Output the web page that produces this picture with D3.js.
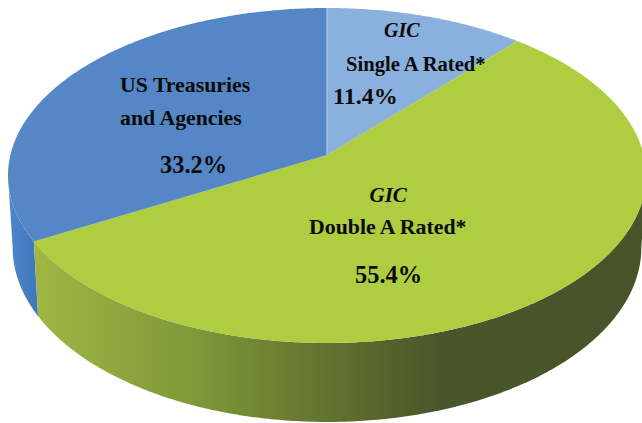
<!DOCTYPE html>
<html>
  <head>
	<meta charset="utf-8">
	<title>Portfolio pie</title>
	<script src="https://cdnjs.cloudflare.com/ajax/libs/d3/7.8.5/d3.min.js"></script>
	<style>
		html,body{margin:0;padding:0;background:#fff;}
		svg{display:block;}
		text{font-family:"Liberation Serif",serif;font-weight:bold;fill:#0b0b0b;}
	</style>
  </head>
  <body>
	<div id="diagram"></div>
	<script>
	var categories = ["GIC Single A Rated*", "GIC Double A Rated*", "US Treasuries and Agencies"];
	var shares = [11.4, 55.4, 33.2];
	var shareLabels = ["11.4%", "55.4%", "33.2%"];
	var topColors = ["#8ab0dd", "#aecd40", "#5587c6"];

	var width = 642;
	var height = 423;

	var svg = d3.select("#diagram").append("svg")
				.attr("width",width)
				.attr("height",height);

	//the pie is a tilted disc, so a circle point goes through a perspective divide
	var tilt = 0.1224;
	var topDisc = {cx:327, cy:155, sx:316.6, sy:146};
	var baseDisc = {cx:327, cy:226, sx:312, sy:144.3};

	function project(disc,angle){
		var s = Math.sin(angle), c = Math.cos(angle);
		var w = 1 + tilt*c;
		return [disc.cx + disc.sx*s/w, (disc.cy - disc.sy*c)/w];
	}
	function arcPoints(disc,a0,a1){
		var n = Math.max(2,Math.ceil(Math.abs(a1-a0)/0.01));
		return d3.range(n+1).map(function(i){
			return project(disc,a0+(a1-a0)*i/n);
		});
	}

	var pie = d3.pie().sort(null).value(function(d){return d;});
	var slices = pie(shares);
	var line = d3.line();

	var defs = svg.append("defs");
	function addGradient(id,x1,x2,stops){
		var g = defs.append("linearGradient")
			.attr("id",id)
			.attr("gradientUnits","userSpaceOnUse")
			.attr("x1",x1).attr("x2",x2).attr("y1",0).attr("y2",0);
		stops.forEach(function(s){
			g.append("stop").attr("offset",s[0]).attr("stop-color",s[1]);
		});
	}
	addGradient("wallGreen",34,640,[[0,"#a0b744"],[0.28,"#7d9638"],[0.47,"#637530"],[0.67,"#49562a"],[1,"#48532a"]]);
	addGradient("wallBlue",8,40,[[0,"#4d86c9"],[1,"#3d76bb"]]);

	//side walls first, the top face covers whatever sticks out behind it
	function wall(a0,a1,fill){
		var pts = arcPoints(topDisc,a0,a1).concat(arcPoints(baseDisc,a1,a0));
		svg.append("path").attr("d",line(pts)+"Z").attr("fill",fill);
	}
	//the silhouette of the wall leaves the disc where the projected x is widest
	var edgeAngle = Math.acos(tilt);
	wall(slices[2].startAngle,Math.PI+edgeAngle,"url(#wallBlue)");
	wall(Math.PI-edgeAngle,slices[1].endAngle,"url(#wallGreen)");

	//top face
	var apex = project(topDisc,0);
	svg.selectAll(".slice")
		.data(slices)
		.enter().append("path")
		.attr("class","slice")
		.attr("d",function(d){
			return line([[topDisc.cx,topDisc.cy]].concat(arcPoints(topDisc,d.startAngle,d.endAngle)))+"Z";
		})
		.attr("fill",function(d,i){return topColors[i];});

	//lighter seam where the small slice meets the blue one
	svg.append("line")
		.attr("x1",topDisc.cx).attr("y1",topDisc.cy)
		.attr("x2",apex[0]).attr("y2",apex[1])
		.attr("stroke","#a9c6e8").attr("stroke-width",1.2);

	function label(txt,x,y,size,italic){
		svg.append("text")
			.attr("x",x).attr("y",y)
			.style("font-size",size+"px")
			.style("font-style",italic?"italic":"normal")
			.text(txt);
	}
	label("GIC",384,37,20,true);
	label("Single A Rated*",346,71,20.6);
	label(shareLabels[0],333,104,24);
	label("US Treasuries",120,92,21.8);
	label("and Agencies",120,125,21.8);
	label(shareLabels[2],160,173,24.4);
	label("GIC",369.5,202,21,true);
	label("Double A Rated*",309,234,21.8);
	label(shareLabels[1],355,283,24.4);
	</script>
  </body>
</html>
